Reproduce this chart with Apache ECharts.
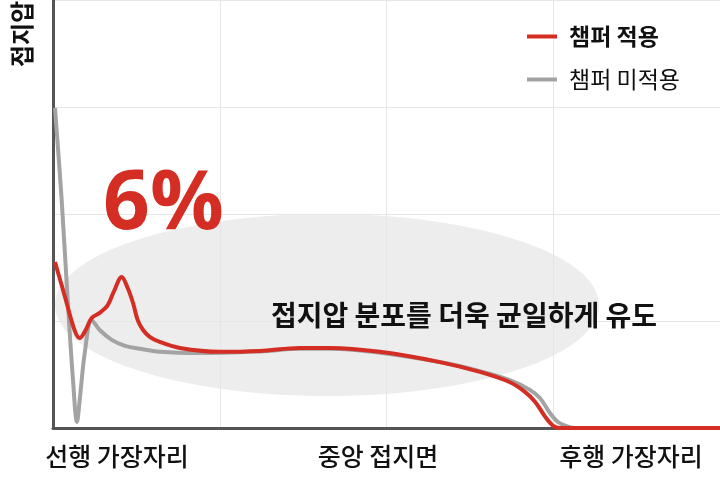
<!DOCTYPE html>
<html>
<head>
<meta charset="utf-8">
<script src="https://cdn.jsdelivr.net/npm/echarts@6/dist/echarts.min.js"></script>
<style>
html,body{margin:0;padding:0;background:#fff;}
#c{width:720px;height:500px;}
</style>
</head>
<body>
<div id="c"></div>
<script>
// Position along tyre contact patch (0 = leading edge, 100 = end of axis)
var withChamferX = [0.3, 1.8, 3.2, 4.0, 4.9, 5.8, 7.0, 8.2, 9.1, 10.3, 11.2, 12.0, 12.7, 13.5, 14.5, 16.0, 19.0, 25.0, 31.0, 37.0, 41.5, 49.0, 58.0, 64.0, 68.5, 70.8, 72.3, 73.8, 75.0, 76.0, 100];
var withChamferY = [38.8, 30.6, 23.0, 21.0, 22.9, 25.7, 26.9, 28.7, 31.8, 35.3, 32.7, 29.2, 25.2, 22.9, 21.3, 20.1, 18.7, 17.8, 18.0, 18.7, 18.7, 17.8, 15.4, 13.1, 10.7, 8.4, 6.1, 2.6, 0.5, 0.0, 0.0];
var withoutChamferX = [0.3, 1.3, 2.2, 3.0, 3.6, 4.0, 4.8, 5.8, 7.0, 8.8, 10.8, 13.0, 16.0, 22.0, 31.0, 37.0, 41.5, 49.0, 58.0, 64.0, 68.5, 71.5, 73.0, 74.5, 75.7, 76.9, 78.3, 100];
var withoutChamferY = [74.8, 53.3, 29.9, 11.2, 1.4, 6.5, 18.0, 25.2, 22.9, 20.6, 19.2, 18.5, 17.8, 17.5, 17.9, 18.5, 18.5, 17.6, 15.4, 13.3, 11.2, 8.9, 7.0, 3.5, 1.4, 0.5, 0.0, 0.0];
var seriesNames = ['챔퍼 적용', '챔퍼 미적용'];
var xLabels = ['선행 가장자리', '중앙 접지면', '후행 가장자리'];
var yAxisName = '접지압';
var highlightText = '6%';
var noteText = '접지압 분포를 더욱 균일하게 유도';

function pairs(xs, ys){ return xs.map(function(x,i){ return [x, ys[i]]; }); }

var FONT = '"Noto Sans CJK KR", "Noto Sans", sans-serif';
var RED = '#d42e24';
var GRAY = '#a3a3a3';

var chart = echarts.init(document.getElementById('c'), null, {renderer:'canvas'});
chart.setOption({
  backgroundColor: '#ffffff',
  animation: false,
  grid: {left: 53, right: 0, top: 0, bottom: 72, containLabel: false},
  legend: {
    orient: 'vertical',
    left: 527,
    top: 25,
    padding: 0,
    itemWidth: 30,
    itemHeight: 4,
    itemGap: 20,
    icon: 'rect',
    textStyle: {fontFamily: FONT, fontSize: 23, color: '#111', padding: [0,0,0,7]},
    data: [
      {name: seriesNames[0], textStyle: {fontWeight: 'bold'}},
      {name: seriesNames[1], textStyle: {fontWeight: 'normal'}}
    ]
  },
  xAxis: {
    type: 'value', min: 0, max: 100, interval: 25,
    axisLine: {show: true, lineStyle: {color: '#555', width: 3}},
    axisTick: {show: false},
    axisLabel: {show: false},
    splitLine: {show: true, lineStyle: {color: '#e6e6e6', width: 1}}
  },
  yAxis: {
    type: 'value', min: 0, max: 100, interval: 25,
    axisLine: {show: true, lineStyle: {color: '#555', width: 3}},
    axisTick: {show: false},
    axisLabel: {show: false},
    splitLine: {show: true, lineStyle: {color: '#e6e6e6', width: 1}}
  },
  graphic: [
    {type: 'ellipse', z: -10, silent: true, shape: {cx: 327, cy: 305, rx: 272, ry: 91}, style: {fill: '#ededed'}},
    {type: 'text', z: 100, x: 22, y: 34, rotation: Math.PI/2,
      style: {text: yAxisName, fontFamily: FONT, fontSize: 24, fontWeight: 'bold', fill: '#111', align: 'center', verticalAlign: 'middle'}},
    {type: 'text', z: 100, x: 103, y: 206,
      style: {text: highlightText, fontFamily: '"Open Sans", Roboto, sans-serif', fontSize: 82, fontWeight: 'bold', fill: RED, align: 'left', verticalAlign: 'middle'}},
    {type: 'text', z: 100, x: 464, y: 315,
      style: {text: noteText, fontFamily: FONT, fontSize: 28, fontWeight: 'bold', fill: '#111', align: 'center', verticalAlign: 'middle'}},
    {type: 'text', z: 100, x: 117, y: 456,
      style: {text: xLabels[0], fontFamily: FONT, fontSize: 25, fontWeight: 500, fill: '#111', align: 'center', verticalAlign: 'middle'}},
    {type: 'text', z: 100, x: 378, y: 456,
      style: {text: xLabels[1], fontFamily: FONT, fontSize: 25, fontWeight: 500, fill: '#111', align: 'center', verticalAlign: 'middle'}},
    {type: 'text', z: 100, x: 631, y: 456,
      style: {text: xLabels[2], fontFamily: FONT, fontSize: 25, fontWeight: 500, fill: '#111', align: 'center', verticalAlign: 'middle'}}
  ],
  series: [
    {name: seriesNames[1], type: 'line', z: 3, smooth: 0.35, symbol: 'none',
      lineStyle: {color: GRAY, width: 4}, itemStyle: {color: GRAY},
      data: pairs(withoutChamferX, withoutChamferY)},
    {name: seriesNames[0], type: 'line', z: 4, smooth: 0.35, symbol: 'none',
      lineStyle: {color: RED, width: 4}, itemStyle: {color: RED},
      data: pairs(withChamferX, withChamferY)}
  ]
});
</script>
</body>
</html>
